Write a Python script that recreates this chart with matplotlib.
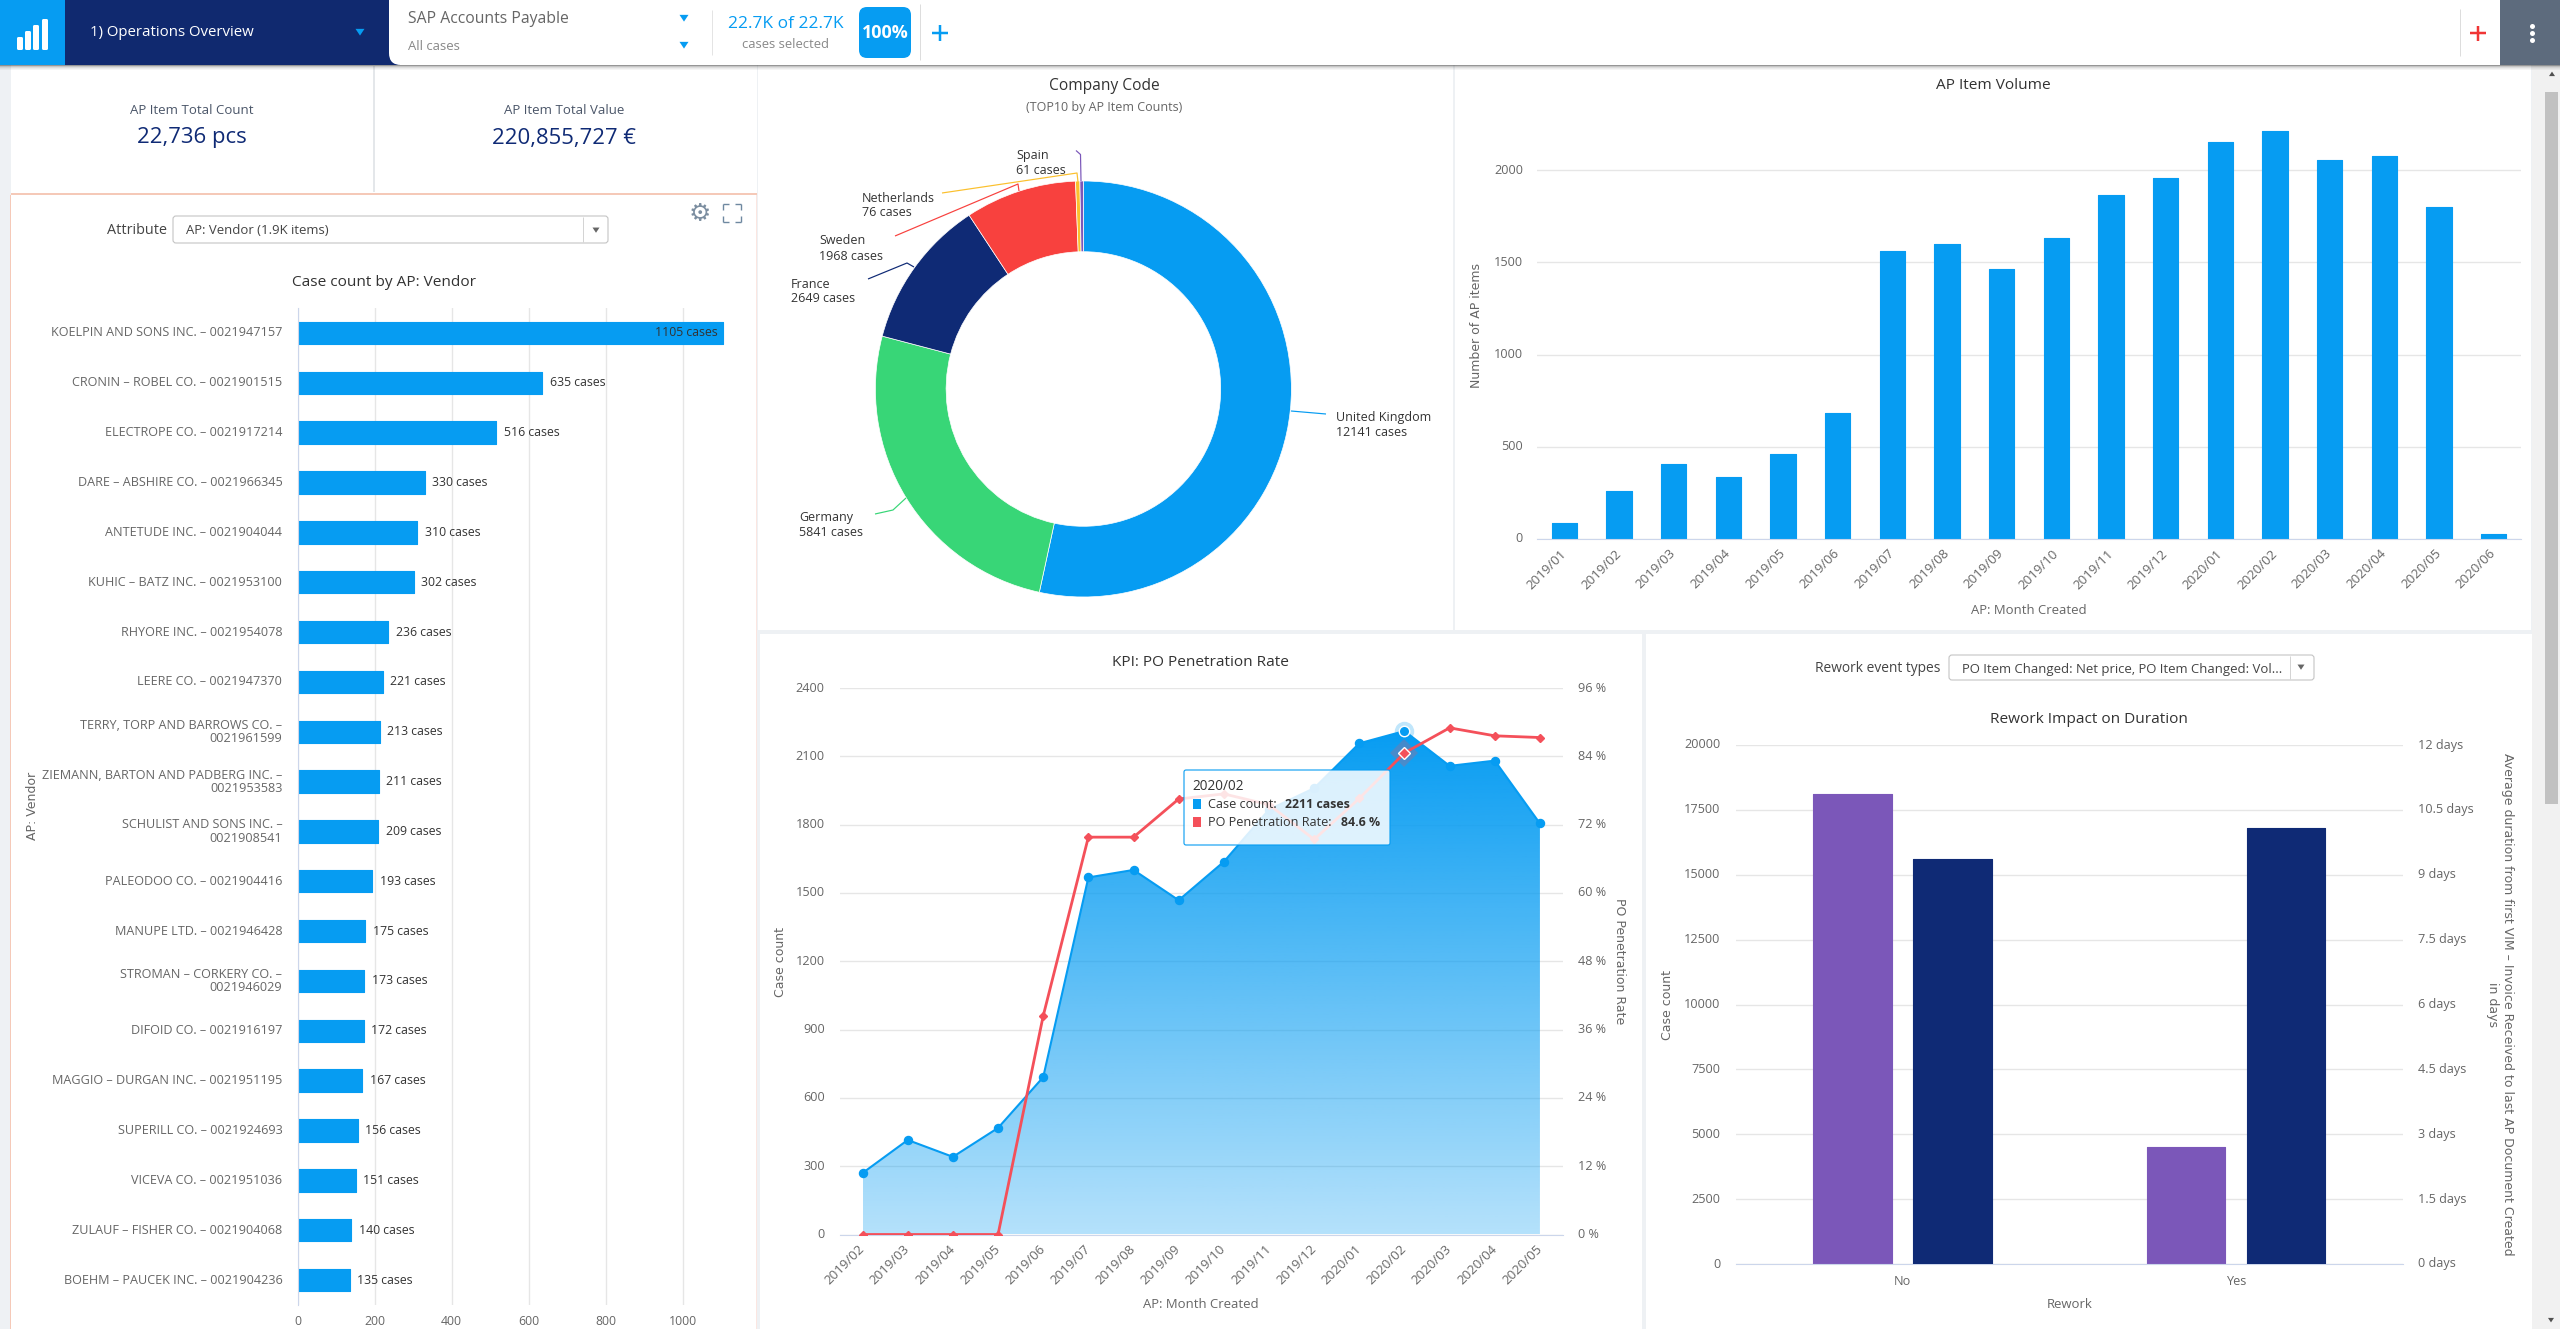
import numpy as np
import matplotlib
matplotlib.use("Agg")
import matplotlib.pyplot as plt
from matplotlib.patches import Rectangle, FancyBboxPatch, Polygon
from matplotlib.colors import LinearSegmentedColormap
from matplotlib.transforms import ScaledTranslation

W, H = 2560, 1329
plt.rcParams['font.family'] = ['Open Sans', 'DejaVu Sans']
FS = 0.94

BLUE = '#069cf2'; NAVY = '#0f2a75'; RED = '#f8413e'; GREEN = '#38d677'
PURPLE = '#7b57b9'; YELLOW = '#fbc02d'
TICK = '#666666'; TITLE = '#333333'; GRID = '#e6e6e6'; AXIS = '#ccd6eb'

# ---------- data ----------
vendors = ['KOELPIN AND SONS INC. – 0021947157', 'CRONIN – ROBEL CO. – 0021901515',
           'ELECTROPE CO. – 0021917214', 'DARE – ABSHIRE CO. – 0021966345',
           'ANTETUDE INC. – 0021904044', 'KUHIC – BATZ INC. – 0021953100',
           'RHYORE INC. – 0021954078', 'LEERE CO. – 0021947370',
           'TERRY, TORP AND BARROWS CO. –\n0021961599',
           'ZIEMANN, BARTON AND PADBERG INC. –\n0021953583',
           'SCHULIST AND SONS INC. –\n0021908541', 'PALEODOO CO. – 0021904416',
           'MANUPE LTD. – 0021946428', 'STROMAN – CORKERY CO. –\n0021946029',
           'DIFOID CO. – 0021916197', 'MAGGIO – DURGAN INC. – 0021951195',
           'SUPERILL CO. – 0021924693', 'VICEVA CO. – 0021951036',
           'ZULAUF – FISHER CO. – 0021904068', 'BOEHM – PAUCEK INC. – 0021904236']
vendor_cases = [1105, 635, 516, 330, 310, 302, 236, 221, 213, 211,
                209, 193, 175, 173, 172, 167, 156, 151, 140, 135]

company_names = ['United Kingdom', 'Germany', 'France', 'Sweden', 'Netherlands', 'Spain']
company_cases = [12141, 5841, 2649, 1968, 76, 61]
company_colors = [BLUE, GREEN, NAVY, RED, YELLOW, PURPLE]

volume_months = ['2019/01', '2019/02', '2019/03', '2019/04', '2019/05', '2019/06',
                 '2019/07', '2019/08', '2019/09', '2019/10', '2019/11', '2019/12',
                 '2020/01', '2020/02', '2020/03', '2020/04', '2020/05', '2020/06']
volume_counts = [87, 260, 408, 337, 461, 684, 1563, 1600, 1464, 1632,
                 1866, 1957, 2152, 2211, 2055, 2077, 1801, 28]

kpi_months = volume_months[1:17]
kpi_cases = [270, 415, 341, 468, 691, 1568, 1601, 1468, 1637, 1866,
             1960, 2157, 2211, 2058, 2081, 1805]
kpi_rate = [0, 0, 0, 0, 38.4, 69.8, 69.8, 76.5, 77.4, 75.5,
            69.4, 76.6, 84.6, 89.0, 87.6, 87.3]

rework_cats = ['No', 'Yes']
rework_cases = [18110, 4510]
rework_days = [9.36, 10.08]

fig = plt.figure(figsize=(W / 100, H / 100), dpi=100, facecolor='white')


def px(size):
    return FS * size * 72 / 100


def axbox(x0, y0, x1, y1, **kw):
    return fig.add_axes([x0 / W, 1 - y1 / H, (x1 - x0) / W, (y1 - y0) / H], **kw)


def overlay(z):
    a = fig.add_axes([0, 0, 1, 1], zorder=z)
    a.set_xlim(0, W); a.set_ylim(H, 0); a.axis('off'); a.patch.set_alpha(0)
    return a


def T(a, x, y, s, size=13, color=TICK, ha='left', va='center', **kw):
    return a.text(x, y + 1, s, fontsize=px(size), color=color, ha=ha, va=va, **kw)


def R(a, x0, y0, x1, y1, color, **kw):
    a.add_patch(Rectangle((x0, y0), x1 - x0, y1 - y0, facecolor=color, edgecolor='none', **kw))


def RR(a, x0, y0, x1, y1, r, fc, ec='none', lw=0, **kw):
    a.add_patch(FancyBboxPatch((x0 + r, y0 + r), x1 - x0 - 2 * r, y1 - y0 - 2 * r,
                               boxstyle=f'round,pad={r},rounding_size={r}',
                               facecolor=fc, edgecolor=ec, linewidth=lw, **kw))


def L(a, xs, ys, color, lw=1.0, **kw):
    a.plot(xs, ys, color=color, lw=lw * 0.72, solid_capstyle='butt', **kw)


def arrow(a, x, y, s, color, up=False):
    pts = [(x - s, y + s * 0.7), (x + s, y + s * 0.7), (x, y - s * 0.8)] if up else \
          [(x - s, y - s * 0.7), (x + s, y - s * 0.7), (x, y + s * 0.8)]
    a.add_patch(Polygon(pts, closed=True, facecolor=color, edgecolor='none'))


def style(ax):
    for s in ax.spines.values():
        s.set_visible(False)
    ax.set_axisbelow(True)
    ax.tick_params(length=0, labelcolor=TICK)


def lift_ylabels(ax, dy_px=1.5):
    off = ScaledTranslation(0, dy_px / 100, fig.dpi_scale_trans)
    for lab in ax.get_yticklabels():
        lab.set_transform(lab.get_transform() + off)


def title(ax, box, s, x, y, size=16.4):
    x0, y0, x1, y1 = box
    ax.set_title(s, fontsize=px(size), color=TITLE, x=(x - x0) / (x1 - x0),
                 y=(y1 - y - 1.5) / (y1 - y0), va='center', ha='center', pad=0)


def xlab(ax, box, s, x, y, size=14):
    x0, y0, x1, y1 = box
    ax.set_xlabel(s, fontsize=px(size), color=TICK)
    ax.xaxis.set_label_coords((x - x0) / (x1 - x0), (y1 - y - 1) / (y1 - y0))
    ax.xaxis.label.set_va('center')


def ylab(ax, box, s, x, y, rot=90, side='left', size=12.5):
    x0, y0, x1, y1 = box
    ax.set_ylabel(s, fontsize=size * 72 / 100, color=TICK, family='DejaVu Sans', rotation=rot,
                  multialignment='center')
    ax.yaxis.set_label_position(side)
    ax.yaxis.label.set_va('center')
    ax.yaxis.label.set_ha('center')
    ax.yaxis.set_label_coords((x - x0) / (x1 - x0), (y1 - y) / (y1 - y0))


# ---------- background ----------
bg = overlay(-5)
R(bg, 0, 0, W, H, '#eef1f4')
R(bg, 11, 60, 757, H, 'white')
R(bg, 758, 60, 1453, 630, 'white')
R(bg, 1455, 60, 2531, 630, 'white')
R(bg, 760, 634, 1642, H, 'white')
R(bg, 1646, 634, 2532, H, 'white')
R(bg, 373, 66, 375, 192, '#e4e7ea')
R(bg, 11, 193, 757, 195, '#f5c9b8')
R(bg, 9.5, 195, 11, H, '#f5c9b8')
R(bg, 756, 195, 757, H, '#fbe6e1')
# scrollbar
R(bg, 2532, 66, 2560, H, '#f1f1f1')
R(bg, 2545, 92, 2558, 804, '#c1c1c1')
arrow(bg, 2552, 74, 3, '#505050', up=True)
arrow(bg, 2551, 1320, 3, '#505050')

# ---------- vendor bars ----------
vb = (297.6, 308, 745, 1305)
ax = axbox(*vb); style(ax)
ypos = np.arange(len(vendors))
ax.barh(ypos, vendor_cases, height=0.45, color=BLUE, edgecolor=BLUE, linewidth=0.8, joinstyle='round')
ax.set_ylim(len(vendors) - 0.5, -0.5)
ax.set_xlim(0, (vb[2] - vb[0]) / 0.3849)
ax.set_xticks([0, 200, 400, 600, 800, 1000])
ax.set_yticks(ypos); ax.set_yticklabels(vendors, fontsize=px(13.5), linespacing=1.05)
ax.tick_params(axis='y', pad=11)
ax.tick_params(axis='x', labelsize=px(13), pad=7)
ax.grid(axis='x', color=GRID, lw=1)
ax.spines['left'].set_visible(True); ax.spines['left'].set_color(AXIS)
lift_ylabels(ax)
for i, v in enumerate(vendor_cases):
    if v > 1000:
        ax.annotate(f'{v} cases', (v, i), xytext=(-3.5, 0), textcoords='offset points',
                    ha='right', va='center', fontsize=px(13), color='#333333')
    else:
        ax.annotate(f'{v} cases', (v, i), xytext=(5.5, 0), textcoords='offset points',
                    ha='left', va='center', fontsize=px(13), color='#333333')
title(ax, vb, 'Case count by AP: Vendor', 384, 281)
ylab(ax, vb, 'AP: Vendor', 33, 806)

# ---------- donut ----------
cx, cy, rad = 1083.4, 389, 208
ax = axbox(cx - rad, cy - rad, cx + rad, cy + rad)
ax.pie(company_cases, colors=company_colors, startangle=90, counterclock=False, radius=1,
       wedgeprops=dict(width=0.34, edgecolor='white', linewidth=0.5))
ax.set_xlim(-1, 1); ax.set_ylim(-1, 1)
ax.set_title('Company Code', fontsize=px(16.5), color=TITLE, y=(cy + rad - 85.5) / (2 * rad),
             va='center', pad=0, x=(1104 - cx + rad) / (2 * rad))

# ---------- AP item volume ----------
vb2 = (1537, 105, 2521, 539)
ax = axbox(*vb2); style(ax)
xv = np.arange(len(volume_months))
ax.bar(xv, volume_counts, width=0.465, color=BLUE, edgecolor=BLUE, linewidth=0.8, joinstyle='round')
ax.set_xlim(-0.5, len(volume_months) - 0.5)
ax.set_ylim(0, (vb2[3] - vb2[1]) / 0.1845)
ax.set_yticks([0, 500, 1000, 1500, 2000])
ax.grid(axis='y', color=GRID, lw=1)
ax.spines['bottom'].set_visible(True); ax.spines['bottom'].set_color(AXIS)
ax.set_xticks(xv)
ax.set_xticklabels(volume_months, rotation=45, ha='right', va='center', rotation_mode='anchor')
ax.tick_params(axis='x', labelsize=px(14), pad=9)
ax.tick_params(axis='y', labelsize=px(13.5), pad=10)
lift_ylabels(ax)
title(ax, vb2, 'AP Item Volume', 1993, 84)
xlab(ax, vb2, 'AP: Month Created', 2029, 609)
ylab(ax, vb2, 'Number of AP items', 1477, 325)

# ---------- KPI ----------
vb3 = (840, 688, 1562.5, 1234.5)
ax = axbox(*vb3); style(ax)
xk = np.arange(len(kpi_months))
cmap = LinearSegmentedColormap.from_list('fade', [(6 / 255, 156 / 255, 242 / 255, 0.30),
                                                  (6 / 255, 156 / 255, 242 / 255, 1.0)])
area = ax.fill_between(xk, kpi_cases, 0, color='none', lw=0)
img = ax.imshow(np.linspace(0, 1, 256).reshape(-1, 1), cmap=cmap, origin='lower', aspect='auto',
                extent=(xk[0], xk[-1], 0, max(kpi_cases)), zorder=1.5, vmin=0, vmax=1)
img.set_clip_path(area.get_paths()[0], transform=ax.transData)
ax.plot(xk, kpi_cases, color=BLUE, lw=1.5, marker='o', ms=5.8, zorder=3)
ax.plot(xk[12], kpi_cases[12], 'o', ms=14, color=BLUE, alpha=0.25, mew=0, zorder=3)
ax.plot(xk[12], kpi_cases[12], 'o', ms=7.5, color=BLUE, mec='white', mew=1, zorder=3)
ax.set_xlim(-0.5, len(kpi_months) - 0.5)
ax.set_ylim(0, 2400)
ax.set_yticks(np.arange(0, 2401, 300))
ax.grid(axis='y', color=GRID, lw=1)
ax.spines['bottom'].set_visible(True); ax.spines['bottom'].set_color(AXIS)
ax.set_xticks(xk)
ax.set_xticklabels(kpi_months, rotation=45, ha='right', va='center', rotation_mode='anchor')
ax.tick_params(axis='x', labelsize=px(14), pad=9)
ax.tick_params(axis='y', labelsize=px(13.5), pad=11)
lift_ylabels(ax)
title(ax, vb3, 'KPI: PO Penetration Rate', 1200, 661)
xlab(ax, vb3, 'AP: Month Created', 1201, 1304)
ylab(ax, vb3, 'Case count', 780, 962)
ax2 = ax.twinx(); style(ax2)
ax2.plot(xk, kpi_rate, color='#f4505a', lw=2, marker='D', ms=4.2, zorder=4)
ax2.plot(xk[12], kpi_rate[12], 'D', ms=14, color='#f4505a', alpha=0.25, mew=0, zorder=4)
ax2.plot(xk[12], kpi_rate[12], 'D', ms=6, color='#f4505a', mec='white', mew=1, zorder=4)
ax2.set_ylim(0, 96)
ax2.set_yticks(np.arange(0, 97, 12))
ax2.set_yticklabels([f'{v} %' for v in range(0, 97, 12)])
ax2.tick_params(axis='y', labelsize=px(13.5), pad=11)
lift_ylabels(ax2)
ylab(ax2, vb3, 'PO Penetration Rate', 1619, 961, rot=270, side='right')

# ---------- rework ----------
vb4 = (1735.7, 745, 2403, 1264)
ax = axbox(*vb4); style(ax)
xr = np.arange(len(rework_cats))
bw = 78.5 / 333.6
off = 50 / 333.6
ax.bar(xr - off, rework_cases, width=bw, color=PURPLE, edgecolor=PURPLE, linewidth=0.8, joinstyle='round', zorder=2)
ax.set_xlim(-0.5, 1.5)
ax.set_ylim(0, 20000)
ax.set_yticks(np.arange(0, 20001, 2500))
ax.grid(axis='y', color=GRID, lw=1)
ax.spines['bottom'].set_visible(True); ax.spines['bottom'].set_color(AXIS)
ax.set_xticks(xr); ax.set_xticklabels(rework_cats)
ax.tick_params(axis='x', labelsize=px(13.5), pad=8)
ax.tick_params(axis='y', labelsize=px(13.5), pad=11)
lift_ylabels(ax)
title(ax, vb4, 'Rework Impact on Duration', 2089, 718)
xlab(ax, vb4, 'Rework', 2069.6, 1303)
ylab(ax, vb4, 'Case count', 1668, 1005)
ax2 = ax.twinx(); style(ax2)
ax2.bar(xr + off, rework_days, width=bw, color=NAVY, edgecolor=NAVY, linewidth=0.8, joinstyle='round', zorder=2)
ax2.set_ylim(0, 12)
day_ticks = [0, 1.5, 3, 4.5, 6, 7.5, 9, 10.5, 12]
ax2.set_yticks(day_ticks)
ax2.set_yticklabels([f'{d:g} days' for d in day_ticks])
ax2.tick_params(axis='y', labelsize=px(13.5), pad=11)
lift_ylabels(ax2)
ylab(ax2, vb4, 'Average duration from first VIM – Invoice Received to last AP Document Created\nin days',
     2500, 1004.5, rot=270, side='right')

# ---------- foreground chrome and annotations ----------
fg = overlay(20)

# donut subtitle and labels
T(fg, 1104, 106, '(TOP10 by AP Item Counts)', 13.3, TICK, ha='center')
leaders = [
    ('United Kingdom', 12141, 1336, 417, BLUE, [1291, 1326], [411, 414]),
    ('Germany', 5841, 799, 517, GREEN, [906, 893, 875], [498, 510, 514]),
    ('France', 2649, 791, 283, NAVY, [914, 907, 868], [267, 263, 279]),
    ('Sweden', 1968, 819, 240, RED, [1019, 1018, 895], [191, 184, 236]),
    ('Netherlands', 76, 862, 197, YELLOW, [1078, 1077, 942], [182, 173, 193]),
    ('Spain', 61, 1016, 154, PURPLE, [1081, 1080.5, 1076], [181, 154.5, 150.5]),
]
for name, val, tx, ty, col, lx, ly in leaders:
    L(fg, lx, ly, col, 1.2)
    T(fg, tx, ty, name, 13.3, '#333333')
    T(fg, tx, ty + 15, f'{val} cases', 13.3, '#333333')

# KPI tiles
T(fg, 192, 109, 'AP Item Total Count', 14.1, '#4a5568', ha='center')
T(fg, 192, 136.5, '22,736 pcs', 23.5, NAVY, ha='center')
T(fg, 564, 110, 'AP Item Total Value', 14.1, '#4a5568', ha='center')
T(fg, 564, 137.5, '220,855,727 €', 23.5, NAVY, ha='center')

# attribute selector
T(fg, 137, 230, 'Attribute', 15.3, '#444444', ha='center')
RR(fg, 173, 216, 608, 243, 3, 'white', '#c4c4c4', 0.8)
L(fg, [583, 583], [217, 242], '#d4d4d4')
arrow(fg, 596, 230, 3.5, '#666666')
T(fg, 186, 230, 'AP: Vendor (1.9K items)', 14, '#444444')
fg.text(700, 214, '⚙', fontsize=18, color='#7c8ea0', ha='center', va='center', family='DejaVu Sans')
for sx, sy in [(-1, -1), (1, -1), (-1, 1), (1, 1)]:
    ex, ey = 732 + sx * 9, 213 + sy * 9
    L(fg, [ex, ex], [ey, ey - sy * 6], '#6e88a0', 1.4)
    L(fg, [ex, ex - sx * 6], [ey, ey], '#6e88a0', 1.4)

# rework selector
T(fg, 1878, 668, 'Rework event types', 14.7, '#444444', ha='center')
RR(fg, 1949, 655, 2314, 680, 3, 'white', '#c4c4c4', 0.8)
L(fg, [2290, 2290], [656, 679], '#d4d4d4')
arrow(fg, 2301, 667, 3.5, '#666666')
T(fg, 1961.6, 668, 'PO Item Changed: Net price, PO Item Changed: Vol...', 14, '#444444')

# tooltip
RR(fg, 1184, 770, 1390, 845, 2, (1, 1, 1, 0.85), BLUE, 0.8)
T(fg, 1192, 785, '2020/02', 14.5, '#333333')
R(fg, 1193, 799, 1201, 809, BLUE)
R(fg, 1193, 817, 1201, 827, '#f4505a')
T(fg, 1208, 804, 'Case count:', 13.4, '#333333')
T(fg, 1285, 804, '2211 cases', 13.2, '#333333', fontweight='bold')
T(fg, 1208, 822, 'PO Penetration Rate:', 13.4, '#333333')
T(fg, 1341, 822, '84.6 %', 13.2, '#333333', fontweight='bold')

# header
for i, a_ in enumerate([0.55, 0.3, 0.18, 0.1, 0.05]):
    R(fg, 0, 65 + i, W, 66 + i, (0.25, 0.25, 0.25, a_))
R(fg, 65, 0, 400, 65, '#10296f')
RR(fg, 389, -20, 2520, 65, 12, 'white')
R(fg, 2500, 0, 2560, 65, '#5d6b7d')
RR(fg, 2460, -20, 2500, 65, 10, 'white')
R(fg, 0, 0, 65, 65, BLUE)
for bx, top in zip([17, 25, 33, 42], [37, 31, 25, 19]):
    RR(fg, bx, top, bx + 6, 50, 1.5, 'white')
T(fg, 90, 32, '1) Operations Overview', 16, 'white')
arrow(fg, 360, 32, 4.5, BLUE)
T(fg, 408, 18, 'SAP Accounts Payable', 16.8, '#666666')
T(fg, 408, 46, 'All cases', 14, '#888888')
arrow(fg, 684, 18, 4.5, BLUE)
arrow(fg, 684, 45, 4.5, BLUE)
L(fg, [712, 712], [10, 55], '#e4e4e4')
T(fg, 786, 23, '22.7K of 22.7K', 18.5, BLUE, ha='center')
T(fg, 786, 44, 'cases selected', 13.8, '#888888', ha='center')
RR(fg, 859, 7, 911, 58, 8, BLUE)
T(fg, 885, 32, '100%', 19, 'white', ha='center', fontweight='bold')
L(fg, [920, 920], [4, 60], '#dddddd')
L(fg, [940, 940], [25, 41], BLUE, 2.5)
L(fg, [932, 948], [33, 33], BLUE, 2.5)
L(fg, [2460, 2460], [9, 56], '#dddddd')
L(fg, [2478, 2478], [26, 41], '#f03535', 2.5)
L(fg, [2470, 2486], [33, 33], '#f03535', 2.5)
for dy in (26, 33, 39.5):
    fg.plot([2532], [dy], 'o', ms=3.6, color='white', mew=0)

fig.savefig('out.png', dpi=100, facecolor='white')
